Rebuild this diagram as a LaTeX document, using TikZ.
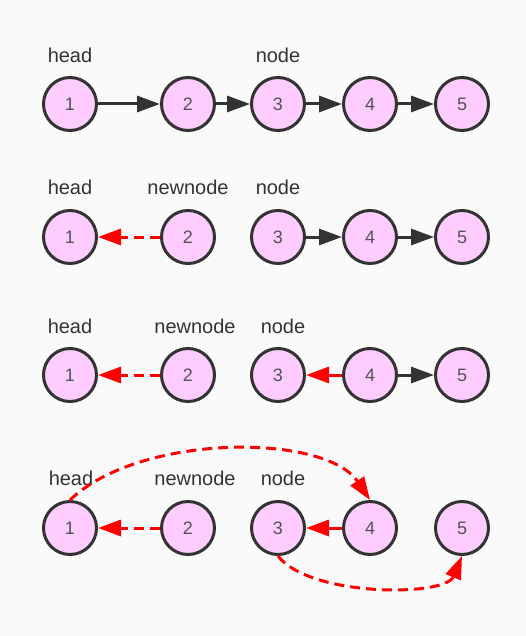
\documentclass[tikz,border=0pt]{standalone}
\usepackage{fontspec}
\setmainfont{Liberation Sans}
\usetikzlibrary{arrows.meta}
\definecolor{paper}{RGB}{250, 250, 250}
\definecolor{nodepink}{RGB}{255, 204, 255}
\definecolor{darkline}{RGB}{51, 51, 51}
\definecolor{linkred}{RGB}{255, 0, 0}

\begin{document}
\begin{tikzpicture}[x=1pt, y=-1pt,
  item/.style={circle, draw=darkline, line width=3pt, fill=nodepink, minimum size=53pt, inner sep=0pt,
    font=\fontsize{18}{18}\selectfont, text=darkline!85},
  tag/.style={font=\fontsize{20}{20}\selectfont, text=darkline},
  nextlink/.style={draw=darkline, line width=3pt, -{Triangle[length=23pt, width=16pt]}},
  backlink/.style={draw=linkred, line width=3pt, -{Triangle[length=23pt, width=16pt]}},
  newlink/.style={backlink, dash pattern=on 10pt off 6pt}]

  \path[use as bounding box, fill=paper] (0, 0) rectangle (526, 636);

  % Nodes of all four rows
  \foreach \row/\y in {1/104, 2/237, 3/375, 4/528} {
    \foreach \i/\x in {1/70, 2/188, 3/278, 4/370, 5/462} {
      \node[item] (n\row\i) at (\x, \y) {\i};
    }
  }

  % Row 1: original list
  \node[tag] (h1) at (70, 55) {head};
  \node[tag] (p1) at (278, 55) {node};
  \draw[nextlink] (n11) -- (n12);
  \draw[nextlink] (n12) -- (n13);
  \draw[nextlink] (n13) -- (n14);
  \draw[nextlink] (n14) -- (n15);

  % Row 2: newnode points to head
  \node[tag] (h2) at (70, 187) {head};
  \node[tag] (m2) at (188, 187) {newnode};
  \node[tag] (p2) at (278, 187) {node};
  \draw[newlink] (n22) -- (n21);
  \draw[nextlink] (n23) -- (n24);
  \draw[nextlink] (n24) -- (n25);

  % Row 3: 4 turned back to 3
  \node[tag] (h3) at (70, 326) {head};
  \node[tag] (m3) at (195, 326) {newnode};
  \node[tag] (p3) at (283, 326) {node};
  \draw[newlink] (n32) -- (n31);
  \draw[backlink] (n34) -- (n33);
  \draw[nextlink] (n34) -- (n35);

  % Row 4: head and node moved on
  \node[tag] (h4) at (71, 478) {head};
  \node[tag] (m4) at (195, 478) {newnode};
  \node[tag] (p4) at (283, 478) {node};
  \draw[newlink] (n42) -- (n41);
  \draw[backlink] (n44) -- (n43);
  \draw[newlink] (n41.north) .. controls (140, 433) and (325, 433) .. (n44.north);
  \draw[newlink] (n43.south) .. controls (310, 597) and (445, 597) .. (n45.south);
\end{tikzpicture}
\end{document}
